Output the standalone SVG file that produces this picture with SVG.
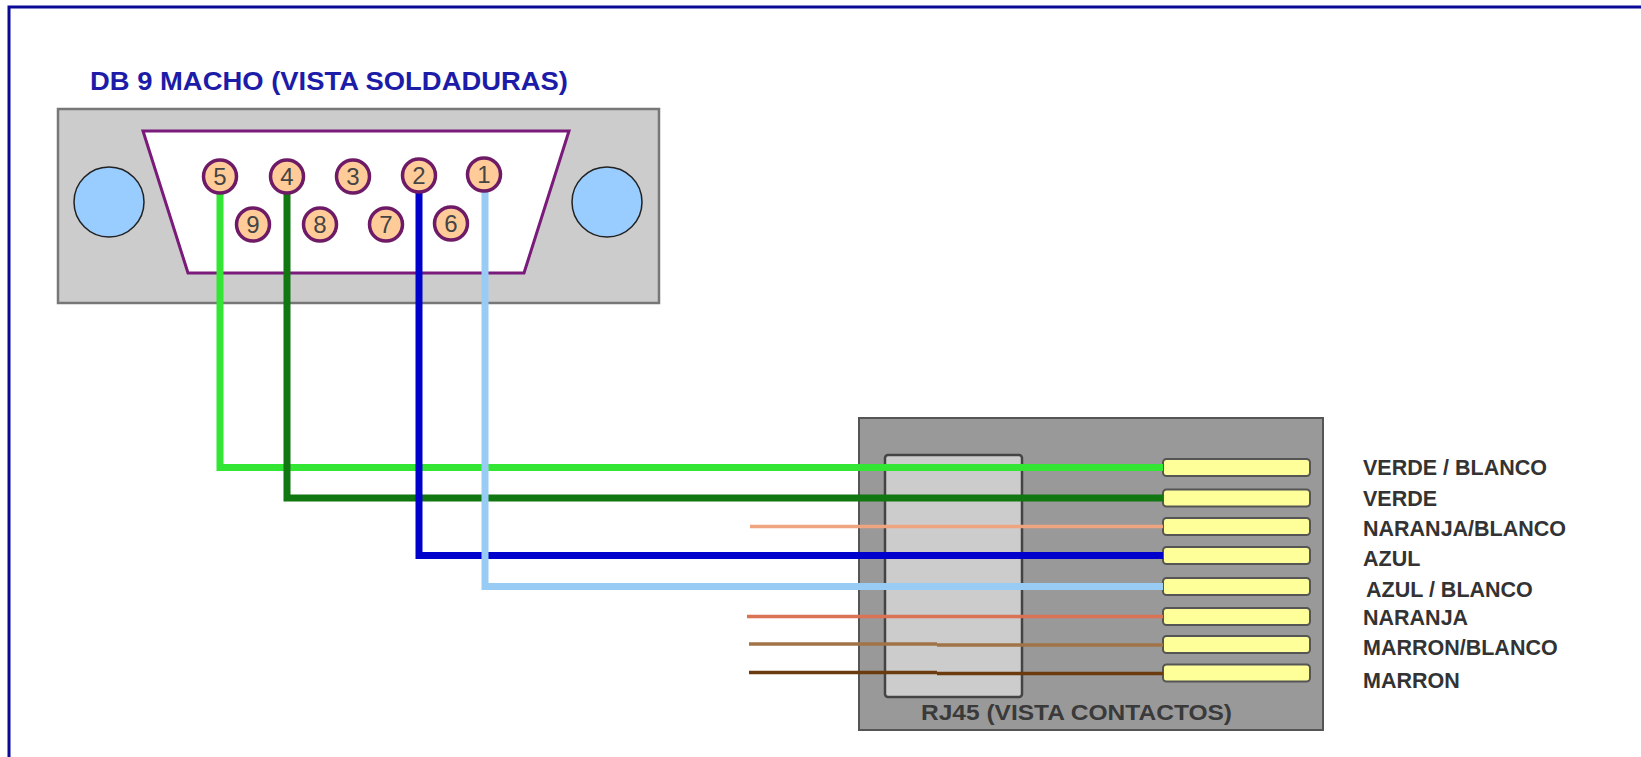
<svg xmlns="http://www.w3.org/2000/svg" width="1641" height="757" viewBox="0 0 1641 757">
<style>
.pin{fill:#ffcc99;stroke:#6e1a66;stroke-width:3.5}
.pn{font-family:"Liberation Sans",Arial,sans-serif;font-size:24px;fill:#444;text-anchor:middle}
.screw{fill:#99ccff;stroke:#222;stroke-width:1.5}
.contact{fill:#ffff99;stroke:#555;stroke-width:2}
.lbl{font-family:"Liberation Sans",Arial,sans-serif;font-size:21.5px;font-weight:bold;fill:#333}
.w{fill:none;stroke-linejoin:miter;stroke-linecap:butt}
</style>
<rect x="0" y="0" width="1641" height="757" fill="#ffffff"/>
<rect x="9" y="7" width="1700" height="800" fill="none" stroke="#0a0a96" stroke-width="3"/>
<g id="db9">
<text x="90" y="90" font-family="Liberation Sans,Arial,sans-serif" font-size="26" font-weight="bold" fill="#1c1ca8" textLength="478" lengthAdjust="spacingAndGlyphs">DB 9 MACHO (VISTA SOLDADURAS)</text>
<rect x="58" y="109" width="601" height="194" fill="#cccccc" stroke="#777" stroke-width="2.5"/>
<circle class="screw" cx="109" cy="202" r="35"/>
<circle class="screw" cx="607" cy="202" r="35"/>
<polygon points="143,131 569,131 524,273 188,273" fill="#ffffff" stroke="#7a1a7a" stroke-width="3"/>
</g>
<g id="rj45">
<rect x="859" y="418" width="464" height="312" fill="#999999" stroke="#555" stroke-width="2"/>
<rect x="885" y="455" width="137" height="242" rx="3" fill="#cccccc" stroke="#444" stroke-width="2.5"/>
<rect class="contact" x="1163" y="459" width="147" height="17" rx="3.5"/>
<rect class="contact" x="1163" y="489.5" width="147" height="17" rx="3.5"/>
<rect class="contact" x="1163" y="518" width="147" height="17" rx="3.5"/>
<rect class="contact" x="1163" y="547" width="147" height="17" rx="3.5"/>
<rect class="contact" x="1163" y="578" width="147" height="17" rx="3.5"/>
<rect class="contact" x="1163" y="608" width="147" height="17" rx="3.5"/>
<rect class="contact" x="1163" y="636" width="147" height="17" rx="3.5"/>
<rect class="contact" x="1163" y="664.5" width="147" height="17" rx="3.5"/>
<text x="921" y="720" font-family="Liberation Sans,Arial,sans-serif" font-size="21.5" font-weight="bold" fill="#3a3a3a" textLength="311" lengthAdjust="spacingAndGlyphs">RJ45 (VISTA CONTACTOS)</text>
</g>
<g id="connectors">
<path class="w" d="M220,190 V467.5 H1163" stroke="#33e633" stroke-width="7"/>
<path class="w" d="M287,190 V498 H1163" stroke="#117711" stroke-width="7"/>
<path class="w" d="M419,190 V555.5 H1163" stroke="#0000cc" stroke-width="7"/>
<path class="w" d="M485,190 V586.5 H1163" stroke="#99ccf5" stroke-width="7"/>
<path class="w" d="M750,526.5 H1163" stroke="#eea47f" stroke-width="3.5"/>
<path class="w" d="M747,616.5 H1163" stroke="#da7254" stroke-width="3.5"/>
<path class="w" d="M749,644 H937 M937,645 H1163" stroke="#a07448" stroke-width="3.5"/>
<path class="w" d="M749,672.5 H937 M937,673.5 H1163" stroke="#6b3a0e" stroke-width="3.5"/>
</g>
<g id="pins">
<circle class="pin" cx="220" cy="176.5" r="16.5"/><text class="pn" x="220" y="185">5</text>
<circle class="pin" cx="287" cy="176.5" r="16.5"/><text class="pn" x="287" y="185">4</text>
<circle class="pin" cx="353" cy="176.5" r="16.5"/><text class="pn" x="353" y="185">3</text>
<circle class="pin" cx="419" cy="175.5" r="16.5"/><text class="pn" x="419" y="184">2</text>
<circle class="pin" cx="484" cy="174.5" r="16.5"/><text class="pn" x="484" y="183">1</text>
<circle class="pin" cx="253" cy="224.5" r="16.5"/><text class="pn" x="253" y="233">9</text>
<circle class="pin" cx="320" cy="224.5" r="16.5"/><text class="pn" x="320" y="233">8</text>
<circle class="pin" cx="386" cy="224.5" r="16.5"/><text class="pn" x="386" y="233">7</text>
<circle class="pin" cx="451" cy="223.5" r="16.5"/><text class="pn" x="451" y="232">6</text>
</g>
<g id="labels">
<text class="lbl" x="1363" y="474.5">VERDE / BLANCO</text>
<text class="lbl" x="1363" y="505.5">VERDE</text>
<text class="lbl" x="1363" y="536">NARANJA/BLANCO</text>
<text class="lbl" x="1363" y="565.5">AZUL</text>
<text class="lbl" x="1366" y="596.5">AZUL / BLANCO</text>
<text class="lbl" x="1363" y="625">NARANJA</text>
<text class="lbl" x="1363" y="655">MARRON/BLANCO</text>
<text class="lbl" x="1363" y="687.5">MARRON</text>
</g>
</svg>
